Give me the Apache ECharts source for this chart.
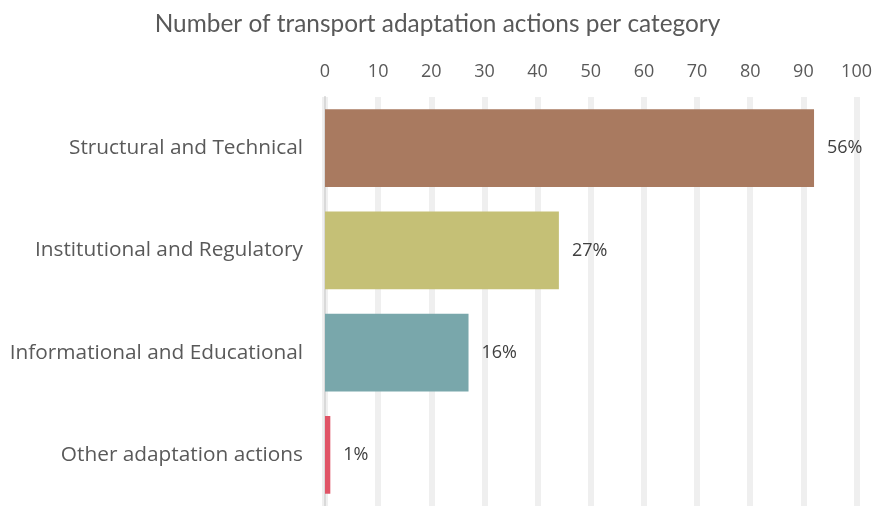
<!DOCTYPE html>
<html>
<head>
<meta charset="utf-8">
<script src="https://cdn.jsdelivr.net/npm/echarts@6/dist/echarts.min.js"></script>
<style>
  html, body { margin: 0; padding: 0; background: #fff; }
  #chart { width: 875px; height: 506px; }
</style>
</head>
<body>
<div id="chart"></div>
<script>
// data
const categories = ['Structural and Technical', 'Institutional and Regulatory', 'Informational and Educational', 'Other adaptation actions'];
const counts = [92, 44, 27, 1];
const shares = ['56%', '27%', '16%', '1%'];
const barColors = ['#a97a60', '#c5c076', '#79a7ab', '#e05466'];
const xTicks = [0, 100, 10];

const chart = echarts.init(document.getElementById('chart'));
chart.setOption({
  animation: false,
  textStyle: { fontFamily: 'Open Sans' },
  title: {
    text: 'Number of transport adaptation actions per category',
    left: 'center',
    top: 7,
    textStyle: { fontSize: 24.4, fontWeight: 'normal', color: '#595959', fontFamily: 'Lato' }
  },
  grid: { left: 325, right: 17, top: 97, bottom: -6, containLabel: false },
  xAxis: {
    type: 'value',
    position: 'top',
    min: xTicks[0],
    max: xTicks[1],
    interval: xTicks[2],
    axisLine: { show: false },
    axisTick: { show: false },
    axisLabel: { color: '#595959', fontSize: 18, margin: 16, fontFamily: 'Open Sans' },
    splitLine: { lineStyle: { color: '#efefef', width: 6 } }
  },
  yAxis: {
    type: 'category',
    inverse: true,
    data: categories,
    axisLine: { lineStyle: { color: '#d9d9d9', width: 2 } },
    axisTick: { show: false },
    axisLabel: { color: '#595959', fontSize: 20.8, margin: 22, fontFamily: 'Open Sans' }
  },
  series: [{
    type: 'bar',
    barCategoryGap: '24%',
    data: counts.map((v, i) => ({ value: v, itemStyle: { color: barColors[i] } })),
    label: {
      show: true,
      position: 'right',
      distance: 13,
      color: '#404040',
      fontSize: 18,
      fontFamily: 'Open Sans',
      formatter: p => shares[p.dataIndex]
    }
  }]
});
</script>
</body>
</html>
